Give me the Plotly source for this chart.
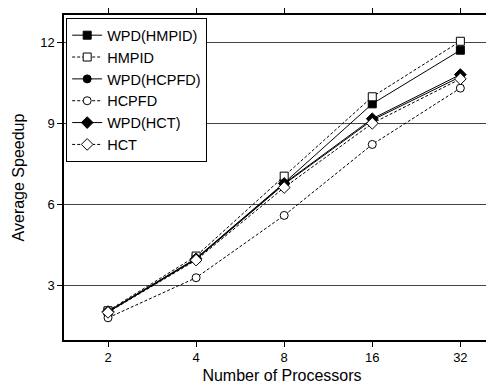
import plotly.graph_objects as go

processors = ["2", "4", "8", "16", "32"]
wpd_hmpid = [2.05, 4.02, 6.80, 9.72, 11.70]
hmpid = [2.08, 4.10, 7.05, 9.98, 12.03]
wpd_hcpfd = [2.03, 3.98, 6.75, 9.12, 10.72]
hcpfd = [1.82, 3.30, 5.60, 8.22, 10.30]
wpd_hct = [2.05, 4.00, 6.78, 9.17, 10.80]
hct = [2.02, 3.95, 6.63, 9.00, 10.64]

series = [
    ("WPD(HMPID)", wpd_hmpid, "square", True),
    ("HMPID", hmpid, "square", False),
    ("WPD(HCPFD)", wpd_hcpfd, "circle", True),
    ("HCPFD", hcpfd, "circle", False),
    ("WPD(HCT)", wpd_hct, "diamond", True),
    ("HCT", hct, "diamond", False),
]

fig = go.Figure()
for name, vals, sym, filled in series:
    fig.add_trace(go.Scatter(
        x=processors, y=vals, name=name, mode="lines+markers",
        line=dict(color="black", width=1, dash="solid" if filled else "3px,2px"),
        marker=dict(symbol=sym, size=9 if sym == "diamond" else 8,
                    color="black" if filled else "white",
                    line=dict(color="black", width=1)),
    ))

fig.update_layout(
    width=494, height=387,
    margin=dict(l=56, r=0, t=6, b=55),
    plot_bgcolor="white", paper_bgcolor="white",
    font=dict(family="Liberation Sans, Arial, sans-serif", color="black", size=13),
    showlegend=True,
    legend=dict(x=0.005, y=0.99, xanchor="left", yanchor="top",
                bgcolor="white", bordercolor="black", borderwidth=1,
                font=dict(size=14.5), tracegroupgap=0, itemwidth=30),
    xaxis=dict(type="category", range=[-0.5, 4.45], showline=True, linecolor="black",
               linewidth=1.5, mirror="ticks", ticks="outside", ticklen=5, tickcolor="black",
               showgrid=False, zeroline=False, tickfont=dict(size=13),
               title=dict(text="Number of Processors", font=dict(size=16), standoff=5)),
    yaxis=dict(range=[1, 13], tickvals=[3, 6, 9, 12], showline=True, linecolor="black",
               linewidth=1.5, mirror=True, ticks="outside", ticklen=5, tickcolor="black",
               showgrid=True, gridcolor="#444444", gridwidth=1, zeroline=False,
               tickfont=dict(size=13),
               title=dict(text="Average Speedup", font=dict(size=16), standoff=12)),
)

fig.write_html("out.html")
